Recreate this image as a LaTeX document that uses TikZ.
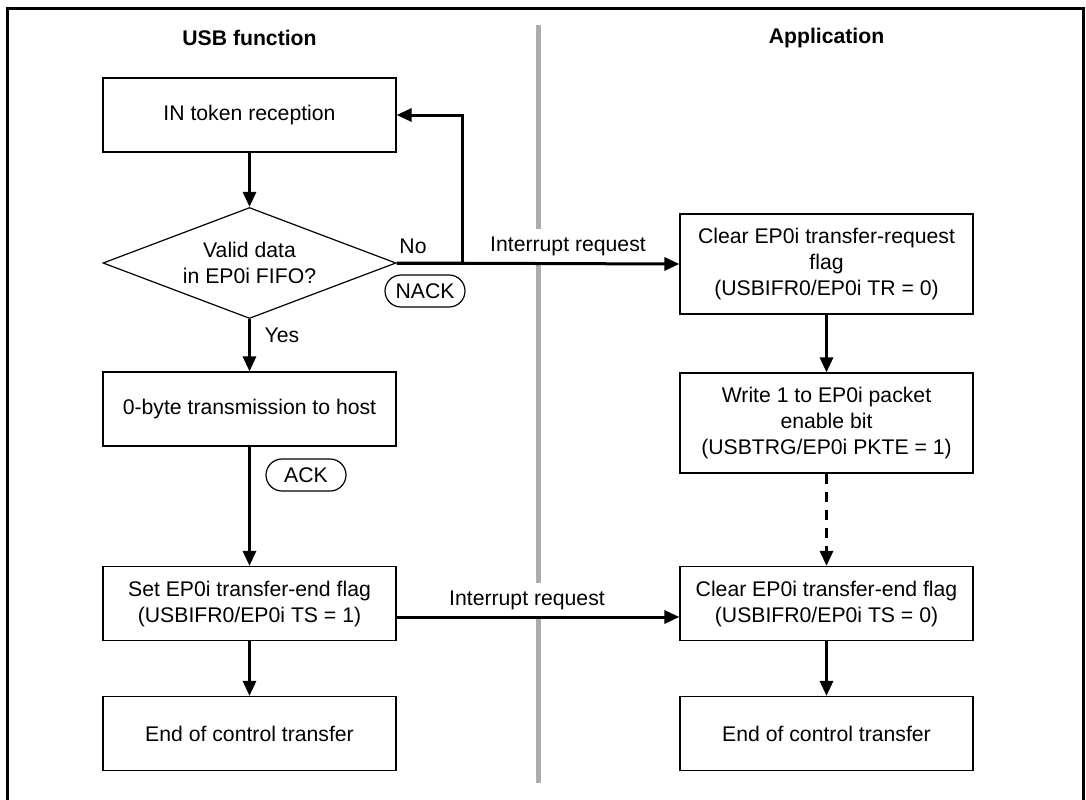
\documentclass[tikz,border=0pt]{standalone}
\usepackage{fontspec}
\setmainfont{Liberation Sans}
\usetikzlibrary{shapes.geometric, arrows.meta, positioning}
\definecolor{mydark}{RGB}{0,0,0}
\definecolor{mygray}{RGB}{172,172,172}
\newcommand{\chartfont}{\fontsize{10.6}{13}\selectfont}
\tikzset{
  block/.style={rectangle, draw=mydark, fill=white,
    minimum width=146.5pt, minimum height=37pt, align=center,
    font=\chartfont, inner sep=2pt, line width=0.6pt},
  tallblock/.style={block, minimum height=50pt},
  decision/.style={diamond, draw=mydark, fill=white, aspect=2.64,
    minimum width=146.5pt, minimum height=55.5pt, align=center,
    font=\chartfont, inner sep=0pt, line width=0.6pt},
  handshake/.style={rectangle, rounded corners=8pt, draw=mydark,
    minimum width=40pt, minimum height=16pt, inner sep=0pt,
    font=\chartfont, line width=0.6pt},
  msg/.style={font=\chartfont, inner sep=1pt},
  hdr/.style={font=\chartfont\bfseries},
  arrow/.style={-{Triangle[length=7.5pt, width=6.5pt]}, line width=1.5pt, color=mydark}
}

\begin{document}
\begin{tikzpicture}[x=0.5pt, y=-0.5pt]
  \useasboundingbox (0,0) rectangle (1086,799);
  % Frame and divider
  \draw[line width=1.5pt] (7,800) -- (7,8) -- (1083,8) -- (1083,800);
  \draw[mygray, line width=2.5pt] (538,25) -- (538,783);

  % Column headers
  \node[hdr] (hdrusb) at (249.5,38) {USB function};
  \node[hdr] (hdrapp) at (826.5,38) {Application};

  % USB function side
  \node[block] (intoken) at (249.5,115) {IN token reception};
  \node[decision] (valid) at (249.5,263) {Valid data\\in EP0i FIFO?};
  \node[block] (zerobyte) at (249.5,409) {0-byte transmission to host};
  \node[block] (setts) at (249.5,603.5) {Set EP0i transfer-end flag\\(USBIFR0/EP0i TS = 1)};
  \node[block] (endusb) at (249.5,733.5) {End of control transfer};

  % Application side
  \node[tallblock] (cleartr) at (826.5,264) {Clear EP0i transfer-request\\flag\\(USBIFR0/EP0i TR = 0)};
  \node[tallblock] (writepk) at (826.5,423) {Write 1 to EP0i packet\\enable bit\\(USBTRG/EP0i PKTE = 1)};
  \node[block] (clearts) at (826.5,603.5) {Clear EP0i transfer-end flag\\(USBIFR0/EP0i TS = 0)};
  \node[block] (endapp) at (826.5,733.5) {End of control transfer};

  % Labels
  \node[msg] (no) at (413,246) {No};
  \node[msg] (yes) at (282,335) {Yes};
  \node[handshake] (nack) at (425,291) {NACK};
  \node[handshake] (ack) at (306,475) {ACK};
  \node[msg, fill=white, minimum height=17pt] (irqa) at (568,246) {Interrupt request};
  \node[msg, fill=white, minimum height=17pt] (irqb) at (527,600) {Interrupt request};

  % Flow
  \coordinate (nobend) at (462,263);
  \draw[arrow] (intoken) -- (valid);
  \draw[arrow] (valid) -- (zerobyte);
  \draw[arrow] (zerobyte) -- (setts);
  \draw[arrow] (setts) -- (endusb);
  \draw[arrow] (valid.east) -- (nobend) |- (intoken.east);
  \draw[arrow] (valid.east) -- (cleartr.west);
  \draw[arrow] ([yshift=-6.75pt]setts.east) -- ([yshift=-6.75pt]clearts.west);
  \draw[arrow] (cleartr) -- (writepk);
  \draw[arrow, dash pattern=on 5pt off 4pt] (writepk) -- (clearts);
  \draw[arrow] (clearts) -- (endapp);
\end{tikzpicture}
\end{document}
